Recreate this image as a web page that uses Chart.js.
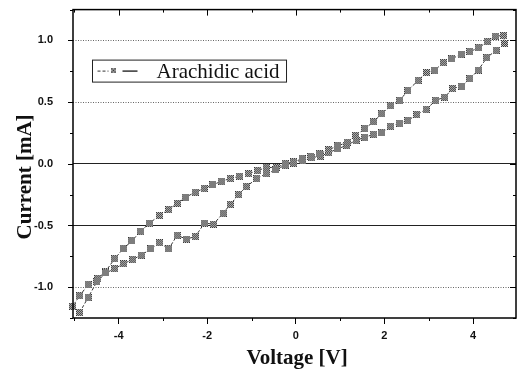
<!DOCTYPE html>
<html>
<head>
<meta charset="utf-8">
<script src="https://cdn.jsdelivr.net/npm/chart.js@4.4.1/dist/chart.umd.min.js"></script>
<style>
  html, body { margin: 0; padding: 0; background: #fff; }
</style>
</head>
<body>
<canvas id="myChart" width="521" height="371"></canvas>
<script>
// sweep 0 -> +4.7 V (lower branch)
const fwdPosV = [-0.05, 0.16, 0.36, 0.55, 0.74, 0.94, 1.15, 1.36, 1.56, 1.76, 1.94, 2.14, 2.35, 2.53, 2.73, 2.94, 3.16, 3.36, 3.54, 3.75, 3.93, 4.12, 4.31, 4.52, 4.71];
const fwdPosI = [0.01, 0.03, 0.05, 0.06, 0.09, 0.12, 0.15, 0.19, 0.215, 0.24, 0.25, 0.305, 0.33, 0.35, 0.40, 0.44, 0.515, 0.54, 0.61, 0.63, 0.69, 0.76, 0.86, 0.92, 0.975];
// sweep +4.7 -> 0 V (upper branch)
const revPosV = [4.69, 4.51, 4.32, 4.13, 3.93, 3.73, 3.52, 3.33, 3.14, 2.95, 2.76, 2.53, 2.35, 2.14, 1.94, 1.75, 1.56, 1.35, 1.16, 0.95, 0.74, 0.53, 0.34, 0.14, -0.05];
const revPosI = [1.04, 1.035, 0.99, 0.94, 0.91, 0.89, 0.85, 0.82, 0.76, 0.74, 0.675, 0.595, 0.515, 0.47, 0.405, 0.34, 0.285, 0.23, 0.175, 0.145, 0.115, 0.08, 0.06, 0.04, 0.015];
// sweep 0 -> -5 V
const fwdNegV = [-0.24, -0.44, -0.67, -0.86, -1.07, -1.27, -1.48, -1.67, -1.87, -2.07, -2.27, -2.48, -2.67, -2.87, -3.08, -3.30, -3.50, -3.70, -3.90, -4.09, -4.30, -4.47, -4.69, -4.88, -5.04];
const fwdNegI = [0.0, -0.03, -0.03, -0.055, -0.08, -0.10, -0.12, -0.14, -0.17, -0.20, -0.23, -0.27, -0.32, -0.37, -0.42, -0.48, -0.545, -0.625, -0.69, -0.77, -0.875, -0.93, -0.98, -1.07, -1.155];
// sweep -5 -> 0 V
const revNegV = [-4.88, -4.69, -4.49, -4.29, -4.09, -3.89, -3.68, -3.49, -3.27, -3.08, -2.87, -2.68, -2.47, -2.27, -2.06, -1.86, -1.64, -1.48, -1.29, -1.12, -0.88, -0.67, -0.45, -0.24, -0.05];
const revNegI = [-1.205, -1.085, -0.955, -0.885, -0.85, -0.81, -0.775, -0.74, -0.69, -0.64, -0.69, -0.58, -0.61, -0.59, -0.48, -0.49, -0.40, -0.33, -0.25, -0.185, -0.12, -0.08, -0.05, -0.01, 0.005];

const xTicks = [-4, -2, 0, 2, 4];
const yTicks = [-1.0, -0.5, 0.0, 0.5, 1.0];
const seriesName = 'Arachidic acid';

const voltage = [...fwdPosV, ...revPosV, ...fwdNegV, ...revNegV];
const current = [...fwdPosI, ...revPosI, ...fwdNegI, ...revNegI];
const points = voltage.map((v, i) => ({x: v, y: current[i]}));

// little speckled square like the scanned marker
function makeMarker() {
    const c = document.createElement('canvas');
    c.width = 7; c.height = 7;
    const g = c.getContext('2d');
    g.fillStyle = '#c8c8c8';
    g.fillRect(0, 0, 7, 7);
    g.fillStyle = '#333';
    for (let i = 0; i < 7; i++) {
        for (let j = 0; j < 7; j++) {
            if ((i + j) % 2 === 0) g.fillRect(i, j, 1, 1);
        }
    }
    return c;
}
const marker = makeMarker();

// box around the plot, mirrored ticks and minor ticks
const frame = {
    id: 'frame',
    afterDraw(chart) {
        const {ctx, chartArea: a} = chart;
        const x = chart.scales.x, y = chart.scales.y;
        ctx.save();
        ctx.strokeStyle = '#000';
        ctx.lineWidth = 1.5;
        ctx.strokeRect(a.left, a.top, a.right - a.left, a.bottom - a.top);
        ctx.lineWidth = 1;
        ctx.beginPath();
        const xs = x.ticks.map(t => t.value);
        const xStep = xs[1] - xs[0];
        for (let v = xs[0] - xStep; v <= xs[xs.length - 1] + xStep + 1e-9; v += xStep / 2) {
            if (v < x.min || v > x.max) continue;
            const px = Math.round(x.getPixelForValue(v)) + 0.5;
            const major = xs.some(t => Math.abs(t - v) < 1e-6);
            const len = major ? 6 : 3;
            ctx.moveTo(px, a.top); ctx.lineTo(px, a.top + len);
            if (!major) { ctx.moveTo(px, a.bottom); ctx.lineTo(px, a.bottom + 3); }
        }
        const ys = y.ticks.map(t => t.value);
        const yStep = ys[1] - ys[0];
        for (let v = ys[0] - yStep; v <= ys[ys.length - 1] + yStep + 1e-9; v += yStep / 2) {
            if (v < y.min || v > y.max) continue;
            const py = Math.round(y.getPixelForValue(v)) + 0.5;
            const major = ys.some(t => Math.abs(t - v) < 1e-6);
            const len = major ? 6 : 3;
            ctx.moveTo(a.right, py); ctx.lineTo(a.right - len, py);
            ctx.moveTo(a.left, py); ctx.lineTo(a.left - (major ? 5 : 3), py);
        }
        ctx.stroke();
        ctx.restore();
    }
};

const legendBox = {
    id: 'legendBox',
    afterDraw(chart) {
        const {ctx, chartArea: a} = chart;
        const label = chart.data.datasets[0].label;
        ctx.save();
        ctx.font = "21px 'Liberation Serif', 'Times New Roman', serif";
        const tw = ctx.measureText(label).width;
        const bx = a.left + 19.5, by = a.top + 50.5, bh = 22;
        const tx = bx + 64;
        ctx.strokeStyle = '#222';
        ctx.lineWidth = 1;
        ctx.strokeRect(bx, by, tx - bx + tw + 7, bh);
        const my = by + 11;
        ctx.strokeStyle = '#333';
        ctx.setLineDash([3, 2]);
        ctx.beginPath(); ctx.moveTo(bx + 5, my); ctx.lineTo(bx + 16, my); ctx.stroke();
        ctx.setLineDash([]);
        ctx.lineWidth = 1.5;
        ctx.beginPath(); ctx.moveTo(bx + 30, my); ctx.lineTo(bx + 45, my); ctx.stroke();
        ctx.drawImage(marker, Math.round(bx + 22 - 3.5), Math.round(my - 3.5), 5, 5);
        ctx.fillStyle = '#111';
        ctx.textBaseline = 'alphabetic';
        ctx.fillText(label, tx, by + 17.5);
        ctx.restore();
    }
};

const tickFont = {family: "'Liberation Sans', Arial, sans-serif", size: 11, weight: 'bold'};
const titleFont = {family: "'Liberation Serif', 'Times New Roman', serif", size: 21, weight: 'bold'};

var ctx = document.getElementById('myChart').getContext('2d');
new Chart(ctx, {
    type: 'scatter',
    data: {
        datasets: [{
            label: seriesName,
            data: points,
            showLine: true,
            borderColor: '#333',
            borderWidth: 1,
            borderDash: [3, 2],
            pointStyle: marker,
            pointRadius: 3.5,
            clip: 6
        }]
    },
    options: {
        responsive: false,
        animation: false,
        events: [],
        layout: {padding: {top: 0, right: 2, left: 0, bottom: 0}},
        plugins: {
            legend: {display: false},
            tooltip: {enabled: false}
        },
        scales: {
            x: {
                type: 'linear',
                min: -5.03,
                max: 4.97,
                afterBuildTicks: s => { s.ticks = xTicks.map(v => ({value: v})); },
                afterFit: s => { s.height = 53; },
                border: {display: false},
                grid: {drawOnChartArea: false, tickLength: 6, tickColor: '#000', color: '#000'},
                ticks: {font: tickFont, color: '#111', padding: 5, maxRotation: 0, callback: v => String(v)},
                title: {display: true, text: ' Voltage [V]', font: titleFont, color: '#111', padding: {top: 0, bottom: 0}}
            },
            y: {
                type: 'linear',
                min: -1.25,
                max: 1.25,
                afterBuildTicks: s => { s.ticks = yTicks.map(v => ({value: v})); },
                afterFit: s => { s.width = 73; },
                border: {
                    display: false,
                    dash: c => (c.tick && (c.tick.value === 0 || c.tick.value === -0.5)) ? [] : [1, 1.5]
                },
                grid: {
                    tickLength: 17,
                    tickColor: 'rgba(0,0,0,0)',
                    color: c => (c.tick && (c.tick.value === 0 || c.tick.value === -0.5)) ? '#222' : '#666'
                },
                ticks: {font: tickFont, color: '#111', padding: 3, callback: v => Number(v).toFixed(1)},
                title: {display: true, text: 'Current [mA]     ', font: titleFont, color: '#111', padding: {top: 13, bottom: 0}}
            }
        }
    },
    plugins: [frame, legendBox]
});
</script>
</body>
</html>
